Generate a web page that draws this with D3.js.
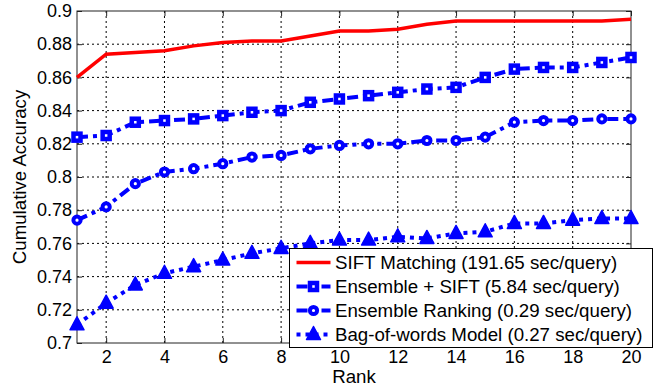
<!DOCTYPE html>
<html>
<head>
<meta charset="utf-8">
<script src="https://cdn.jsdelivr.net/npm/d3@7"></script>
<style>
  body { margin: 0; background: #fff; }
  svg { display: block; font-family: "Liberation Sans", Arial, sans-serif; }
</style>
</head>
<body>
<script>
(function (d3) {
  "use strict";

  /***** Data *****/
  var ranks = d3.range(1, 21);
  var xTicks = [2, 4, 6, 8, 10, 12, 14, 16, 18, 20];
  var yTicks = [0.7, 0.72, 0.74, 0.76, 0.78, 0.8, 0.82, 0.84, 0.86, 0.88, 0.9];
  var siftMatching = [0.860, 0.874, 0.875, 0.876, 0.879, 0.881, 0.882, 0.882, 0.885, 0.888,
                      0.888, 0.889, 0.892, 0.894, 0.894, 0.894, 0.894, 0.894, 0.894, 0.895];
  var ensembleSift = [0.824, 0.825, 0.833, 0.834, 0.835, 0.837, 0.839, 0.840, 0.845, 0.847,
                      0.849, 0.851, 0.853, 0.854, 0.860, 0.865, 0.866, 0.866, 0.869, 0.872];
  var ensembleRanking = [0.774, 0.782, 0.796, 0.803, 0.805, 0.808, 0.812, 0.813, 0.817, 0.819,
                         0.820, 0.820, 0.822, 0.822, 0.824, 0.833, 0.834, 0.834, 0.835, 0.835];
  var bagOfWords = [0.711, 0.724, 0.735, 0.742, 0.746, 0.750, 0.754, 0.757, 0.760, 0.762,
                    0.762, 0.764, 0.763, 0.766, 0.767, 0.772, 0.772, 0.774, 0.775, 0.775];
  var seriesNames = ["SIFT Matching (191.65 sec/query)", "Ensemble + SIFT (5.84 sec/query)",
                     "Ensemble Ranking (0.29 sec/query)", "Bag-of-words Model (0.27 sec/query)"];

  /***** Configuration *****/
  var width = 660, height = 389;
  var margin = { top: 11, right: 29, bottom: 46, left: 77 };
  var chartWidth = width - margin.left - margin.right;
  var chartHeight = height - margin.top - margin.bottom;
  var fontSize = 18;
  var labelSize = 18.7;

  var series = [
    { name: seriesNames[0], values: siftMatching, color: "#ff0000", dash: null, width: 3.5, marker: null },
    { name: seriesNames[1], values: ensembleSift, color: "#0000ff", dash: "11,5,4,5", width: 4, marker: "square" },
    { name: seriesNames[2], values: ensembleRanking, color: "#0000ff", dash: "11,5,4,5", width: 4, marker: "circle" },
    { name: seriesNames[3], values: bagOfWords, color: "#0000ff", dash: "4,5", width: 4, marker: "triangle" }
  ];

  /***** Scales *****/
  var xScale = d3.scaleLinear().domain([1, 20]).range([0, chartWidth]);
  var yScale = d3.scaleLinear().domain([0.7, 0.9]).range([chartHeight, 0]);

  var svg = d3.select("body").append("svg")
      .attr("width", width)
      .attr("height", height);

  var g = svg.append("g")
      .attr("transform", "translate(" + margin.left + "," + margin.top + ")");

  /***** Grid *****/
  g.append("g").selectAll("line").data(xTicks.filter(function (d) { return d < 20; }))
    .enter().append("line")
      .attr("x1", xScale).attr("x2", xScale)
      .attr("y1", 0).attr("y2", chartHeight)
      .attr("stroke", "#000").attr("stroke-width", 1)
      .attr("stroke-dasharray", "2,3");

  g.append("g").selectAll("line").data(yTicks.slice(1, -1))
    .enter().append("line")
      .attr("y1", yScale).attr("y2", yScale)
      .attr("x1", 0).attr("x2", chartWidth)
      .attr("stroke", "#000").attr("stroke-width", 1)
      .attr("stroke-dasharray", "2,3");

  /***** Axes *****/
  var xAxis = d3.axisBottom(xScale).tickValues(xTicks).tickSize(-5).tickPadding(7);
  var yAxis = d3.axisLeft(yScale).tickValues(yTicks).tickSize(-5).tickPadding(5)
      .tickFormat(function (d) { return d3.format("")(+d.toFixed(2)); });

  var xg = g.append("g").attr("transform", "translate(0," + chartHeight + ")").call(xAxis);
  var yg = g.append("g").call(yAxis);
  g.append("g").call(d3.axisTop(xScale).tickValues(xTicks).tickSize(-5).tickFormat(""));
  g.append("g").attr("transform", "translate(" + chartWidth + ",0)")
    .call(d3.axisRight(yScale).tickValues(yTicks).tickSize(-5).tickFormat(""));

  g.selectAll(".domain").remove();
  g.selectAll(".tick line").attr("stroke", "#222");
  [xg, yg].forEach(function (a) {
    a.selectAll("text").attr("font-size", fontSize).attr("fill", "#000")
      .attr("font-family", "Liberation Sans, Arial, sans-serif");
  });

  g.append("rect")
      .attr("width", chartWidth).attr("height", chartHeight)
      .attr("fill", "none").attr("stroke", "#222").attr("stroke-width", 1);

  /***** Lines *****/
  var line = d3.line()
      .x(function (d, i) { return xScale(ranks[i]); })
      .y(function (d) { return yScale(d); });

  function drawMarker(sel, type, color) {
    if (type === "square") {
      sel.append("rect").attr("x", -3.5).attr("y", -3.5).attr("width", 7).attr("height", 7)
        .attr("fill", "#fff").attr("stroke", color).attr("stroke-width", 4.5);
    } else if (type === "circle") {
      sel.append("circle").attr("r", 3.6)
        .attr("fill", "#fff").attr("stroke", color).attr("stroke-width", 4);
    } else if (type === "triangle") {
      sel.append("path").attr("d", "M0,-8L7,5L-7,5Z")
        .attr("fill", color).attr("stroke", color).attr("stroke-width", 1.5)
        .attr("stroke-linejoin", "round");
    }
  }

  series.slice().reverse().forEach(function (s) {
    g.append("path")
        .datum(s.values)
        .attr("d", line)
        .attr("fill", "none")
        .attr("stroke", s.color)
        .attr("stroke-width", s.width)
        .attr("stroke-dasharray", s.dash);
    if (s.marker) {
      g.append("g").selectAll("g").data(s.values).enter().append("g")
          .attr("transform", function (d, i) { return "translate(" + xScale(ranks[i]) + "," + yScale(d) + ")"; })
          .each(function () { drawMarker(d3.select(this), s.marker, s.color); });
    }
  });

  /***** Axis labels *****/
  svg.append("text")
      .attr("x", margin.left + chartWidth / 2).attr("y", 383)
      .attr("text-anchor", "middle").attr("font-size", labelSize).text("Rank");
  svg.append("text")
      .attr("transform", "translate(26," + (margin.top + chartHeight / 2) + ") rotate(-90)")
      .attr("text-anchor", "middle").attr("font-size", labelSize).text("Cumulative Accuracy");

  /***** Legend *****/
  var legend = svg.append("g").attr("transform", "translate(289.5,248.5)");
  legend.append("rect").attr("width", 363).attr("height", 99)
      .attr("fill", "#fff").attr("stroke", "#000").attr("stroke-width", 1);
  series.forEach(function (s, i) {
    var y = 14 + i * 24;
    var row = legend.append("g").attr("transform", "translate(0," + y + ")");
    row.append("line").attr("x1", 7).attr("x2", 41).attr("y1", 0).attr("y2", 0)
        .attr("stroke", s.color).attr("stroke-width", s.width)
        .attr("stroke-dasharray", s.dash);
    if (s.marker) {
      var m = row.append("g").attr("transform", "translate(24,0)");
      drawMarker(m, s.marker, s.color);
    }
    row.append("text").attr("x", 45.5).attr("y", 6.5)
        .attr("font-size", labelSize).text(s.name);
  });

})(d3);
</script>
</body>
</html>
